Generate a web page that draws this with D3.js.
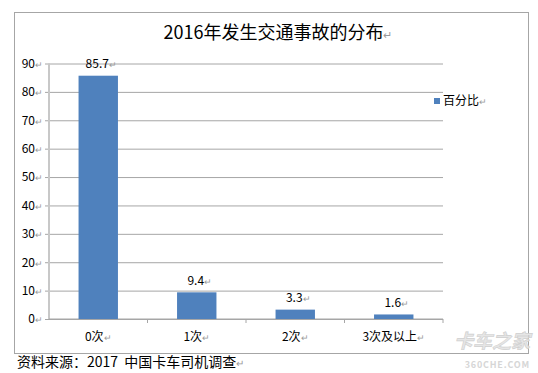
<!DOCTYPE html>
<html>
<head>
<meta charset="utf-8">
<script src="https://cdn.jsdelivr.net/npm/d3@7"></script>
<style>
	body { margin: 0; background: #fff; }
	svg text { font-family: "Noto Sans CJK SC", "Noto Sans", sans-serif; }
</style>
</head>
<body>
<div id="grafica"></div>
<script>
var titulo = '2016年发生交通事故的分布';
var categorias = ['0次', '1次', '2次', '3次及以上'];
var valores = [85.7, 9.4, 3.3, 1.6];
var ticksY = [0, 10, 20, 30, 40, 50, 60, 70, 80, 90];
var serie = '百分比';
var fuente = '资料来源：2017  中国卡车司机调查';

var W = 538, H = 373,
	m = {t: 63.5, r: 95, b: 54, l: 49},
	azul = '#4f81bd',
	flecha = '\u21b5';

var g = d3.select('#grafica').append('svg')
	.attr('width', W)
	.attr('height', H);

// marco exterior
g.append('rect')
	.attr('x', 14.5).attr('y', 12.5)
	.attr('width', 514).attr('height', 341)
	.attr('fill', 'none')
	.attr('stroke', '#a6a6a6');

var x = d3.scaleBand()
	.domain(categorias)
	.range([m.l, W - m.r]);

var y = d3.scaleLinear()
	.domain([0, 90])
	.range([H - m.b, m.t]);

// texto con la marca de parrafo gris al final
var conFlecha = function(sel, tam) {
	sel.append('tspan').text(function(d) { return d.texto; });
	sel.append('tspan')
		.attr('fill', '#9a9a9a')
		.attr('font-size', tam)
		.text(flecha);
};

// lineas de la rejilla
g.append('g')
	.attr('transform', 'translate(' + m.l + ',0)')
	.call(d3.axisLeft(y).tickValues(ticksY).tickSize(-(W - m.r - m.l)).tickSizeOuter(0).tickFormat(''))
	.call(function(a) {
		a.select('.domain').remove();
		a.selectAll('.tick line').attr('stroke', '#a6a6a6').attr('x1', -4);
	});

// eje y
g.append('line')
	.attr('x1', m.l).attr('x2', m.l)
	.attr('y1', m.t).attr('y2', y(0))
	.attr('stroke', '#c8c8c8')
	.attr('stroke-width', 2);

g.selectAll('.ytxt').data(ticksY)
	.enter().append('text')
	.attr('class', 'ytxt')
	.attr('x', 43)
	.attr('y', function(d) { return y(d); })
	.attr('dy', '0.36em')
	.attr('text-anchor', 'end')
	.attr('font-size', 12)
	.attr('fill', '#000')
	.datum(function(d) { return {texto: String(d)}; })
	.call(conFlecha, 9);

// eje x
g.append('g')
	.attr('transform', 'translate(0,' + y(0) + ')')
	.call(d3.axisBottom(x).tickSize(0).tickFormat(''))
	.call(function(a) {
		a.select('.domain').attr('stroke', '#a6a6a6').attr('d', 'M' + m.l + ',0H' + (W - m.r));
	});

g.selectAll('.xtick').data(categorias.map(function(c) { return x(c) + x.bandwidth(); }))
	.enter().append('line')
	.attr('class', 'xtick')
	.attr('x1', function(d) { return d; }).attr('x2', function(d) { return d; })
	.attr('y1', y(0)).attr('y2', y(0) + 4)
	.attr('stroke', '#a6a6a6');

g.selectAll('.xtxt').data(categorias)
	.enter().append('text')
	.attr('class', 'xtxt')
	.attr('x', function(d) { return x(d) + x.bandwidth() / 2; })
	.attr('y', 337)
	.attr('dy', '0.36em')
	.attr('text-anchor', 'middle')
	.attr('font-size', 12)
	.datum(function(d) { return {texto: d}; })
	.call(conFlecha, 9);

// barras
var bw = x.bandwidth() * 0.4;
var datos = categorias.map(function(c, i) { return {cat: c, valor: valores[i]}; });

g.selectAll('.barra').data(datos)
	.enter().append('rect')
	.attr('class', 'barra')
	.attr('x', function(d) { return x(d.cat) + (x.bandwidth() - bw) / 2; })
	.attr('y', function(d) { return y(d.valor); })
	.attr('width', bw)
	.attr('height', function(d) { return y(0) - y(d.valor); })
	.attr('fill', azul);

g.selectAll('.etiqueta').data(datos)
	.enter().append('text')
	.attr('class', 'etiqueta')
	.attr('x', function(d) { return x(d.cat) + x.bandwidth() / 2 + 3; })
	.attr('y', function(d) { return y(d.valor) - 12; })
	.attr('dy', '0.36em')
	.attr('text-anchor', 'middle')
	.attr('font-size', 12)
	.datum(function(d) { return {texto: d.valor.toFixed(1)}; })
	.call(conFlecha, 9);

// titulo
g.append('text')
	.attr('x', 278)
	.attr('y', 33)
	.attr('dy', '0.36em')
	.attr('text-anchor', 'middle')
	.attr('font-size', 18)
	.datum({texto: titulo})
	.call(conFlecha, 11);

// leyenda
g.append('rect')
	.attr('x', 434).attr('y', 98)
	.attr('width', 6).attr('height', 6)
	.attr('fill', azul);

g.append('text')
	.attr('x', 443)
	.attr('y', 101)
	.attr('dy', '0.36em')
	.attr('font-size', 12)
	.datum({texto: serie})
	.call(conFlecha, 9);

// fuente
g.append('text')
	.attr('x', 17)
	.attr('y', 362)
	.attr('dy', '0.36em')
	.attr('font-size', 14)
	.attr('xml:space', 'preserve')
	.datum({texto: fuente})
	.call(conFlecha, 10);

// marca de agua
g.append('text')
	.attr('x', 530).attr('y', 348)
	.attr('text-anchor', 'end')
	.attr('font-size', 19)
	.attr('font-weight', 'bold')
	.attr('font-style', 'italic')
	.attr('fill', '#e6e6e6')
	.attr('stroke', '#cfcfcf')
	.attr('stroke-width', 0.6)
	.text('卡车之家');

g.append('text')
	.attr('x', 530).attr('y', 368)
	.attr('text-anchor', 'end')
	.attr('font-size', 9)
	.attr('font-weight', 'bold')
	.attr('fill', '#d6d6d6')
	.attr('letter-spacing', 0.8)
	.text('360CHE.COM');
</script>
</body>
</html>
